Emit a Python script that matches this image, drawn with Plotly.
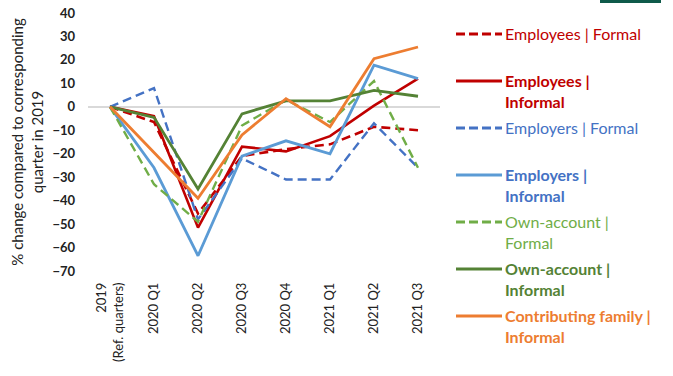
import plotly.graph_objects as go

# Quarter categories on the horizontal axis
categories = ["2019<br>(Ref. quarters)", "2020 Q1", "2020 Q2", "2020 Q3",
              "2020 Q4", "2021 Q1", "2021 Q2", "2021 Q3"]

# % change compared to the corresponding quarter in 2019
employees_formal = [0, -6.5, -45.5, -21, -18, -16, -8.5, -10]
employees_informal = [0, -4, -51.5, -17, -19, -12.5, 0.5, 12]
employers_formal = [0, 8, -48, -22, -31, -31, -7, -26]
employers_informal = [0, -26, -63.5, -21, -14.5, -20, 17.8, 12]
own_account_formal = [0, -33, -49, -8, 3, -6.5, 11, -26]
own_account_informal = [0, -4.5, -35, -3, 2.5, 2.5, 7, 4.5]
contributing_family_informal = [0, -19.5, -39, -12, 3.5, -8.5, 20.5, 25.5]

series = [
    ("Employees | Formal", employees_formal, "#C00000", True, 2.6, False),
    ("Employees |<br>Informal", employees_informal, "#C00000", False, 2.6, True),
    ("Employers | Formal", employers_formal, "#4472C4", True, 2.4, False),
    ("Employers |<br>Informal", employers_informal, "#5B9BD5", False, 2.8, True),
    ("Own-account |<br>Formal", own_account_formal, "#70AD47", True, 2.4, False),
    ("Own-account |<br>Informal", own_account_informal, "#548235", False, 2.8, True),
    ("Contributing family |<br>Informal", contributing_family_informal, "#ED7D31", False, 2.8, True),
]

# Text colour of each legend label
label_colors = ["#C00000", "#C00000", "#4472C4", "#4472C4", "#70AD47", "#548235", "#ED7D31"]

W, H = 673, 376
PL, PR, PT, PB = 88, 440, 13, 271  # plot area edges in pixels


def px_x(x):
    return (x - PL) / (PR - PL)


def px_y(y):
    return (PB - y) / (PB - PT)


fig = go.Figure()
for name, vals, color, dashed, width, _ in series:
    fig.add_trace(go.Scatter(
        x=list(range(len(categories))), y=vals, mode="lines", name=name,
        line=dict(color=color, dash="9px,5px" if dashed else "solid", width=width),
        showlegend=False,
    ))

# Hand-built legend on the right: sample line + coloured label
legend_top = 34
legend_step = 47
for i, (name, vals, color, dashed, width, bold) in enumerate(series):
    ypix = legend_top + i * legend_step
    fig.add_shape(type="line", xref="paper", yref="paper",
                  x0=px_x(456), x1=px_x(502), y0=px_y(ypix), y1=px_y(ypix),
                  line=dict(color=color, dash="9px,4px" if dashed else "solid",
                            width=3.2))
    text = f"<b>{name}</b>" if bold else name
    fig.add_annotation(xref="paper", yref="paper",
                       x=px_x(503), y=px_y(ypix - 12),
                       xanchor="left", yanchor="top", text=text, showarrow=False,
                       align="left", font=dict(family="Lato", size=16, color=label_colors[i]))

# Small dark bar in the upper-right corner
fig.add_shape(type="rect", xref="paper", yref="paper",
              x0=px_x(600), x1=px_x(661), y0=px_y(3), y1=px_y(-1),
              fillcolor="#0E5A4A", line=dict(width=0))

fig.update_layout(
    width=W, height=H,
    margin=dict(l=PL, r=W - PR, t=PT, b=H - PB),
    plot_bgcolor="white", paper_bgcolor="white",
    font=dict(family="Lato", color="#222"),
    xaxis=dict(
        tickmode="array", tickvals=list(range(len(categories))), ticktext=categories,
        range=[-0.5, len(categories) - 0.5], tickangle=-90, showgrid=False,
        zeroline=False, showline=False, ticks="", ticklabelstandoff=8,
        automargin=False,
        tickfont=dict(family="Lato", size=13, color="#222"),
    ),
    yaxis=dict(
        range=[-70, 40], dtick=10, tick0=0, showgrid=False, zeroline=True,
        zerolinecolor="#D9D9D9", zerolinewidth=1.5, showline=False, ticks="",
        ticklabelstandoff=12, automargin=False,
        tickfont=dict(family="Lato", size=13, color="#222", weight="bold"),
        title=dict(text="% change compared to corresponding<br>quarter in 2019",
                   font=dict(family="Lato", size=15, color="#222"), standoff=5),
    ),
)

fig.write_html("out.html")
